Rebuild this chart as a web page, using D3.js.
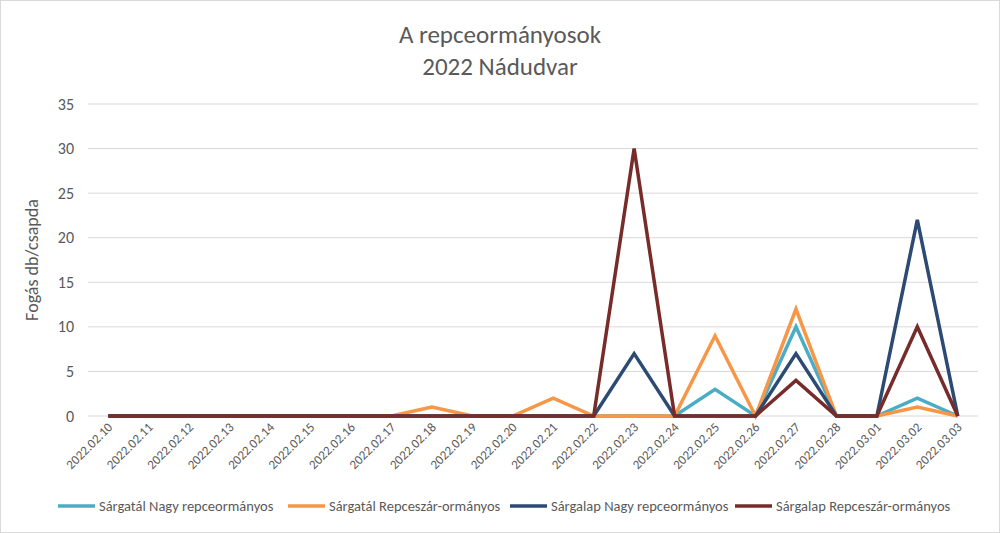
<!DOCTYPE html>
<html><head><meta charset="utf-8">
<script src="https://cdn.jsdelivr.net/npm/d3@7"></script>
<style>body{margin:0;background:#fff}text{font-family:Calibri,Carlito,"Open Sans",sans-serif}</style>
</head><body><svg id="chart"></svg>
<script>
const dates = ["2022.02.10","2022.02.11","2022.02.12","2022.02.13","2022.02.14","2022.02.15","2022.02.16","2022.02.17","2022.02.18","2022.02.19","2022.02.20","2022.02.21","2022.02.22","2022.02.23","2022.02.24","2022.02.25","2022.02.26","2022.02.27","2022.02.28","2022.03.01","2022.03.02","2022.03.03"];
const seriesNames = ["Sárgatál Nagy repceormányos","Sárgatál Repceszár-ormányos","Sárgalap Nagy repceormányos","Sárgalap Repceszár-ormányos"];
const seriesColors = ["#4bacc6","#f79646","#2c4a72","#772c2a"];
const sargatalNagy   = [0,0,0,0,0,0,0,0,0,0,0,0,0,0,0,3,0,10,0,0,2,0];
const sargatalRepcesz= [0,0,0,0,0,0,0,0,1,0,0,2,0,0,0,9,0,12,0,0,1,0];
const sargalapNagy   = [0,0,0,0,0,0,0,0,0,0,0,0,0,7,0,0,0,7,0,0,22,0];
const sargalapRepcesz= [0,0,0,0,0,0,0,0,0,0,0,0,0,30,0,0,0,4,0,0,10,0];
const seriesValues = [sargatalNagy, sargatalRepcesz, sargalapNagy, sargalapRepcesz];
const yTicks = [0,5,10,15,20,25,30,35];

const W = 1000, H = 533;
const svg = d3.select("#chart").attr("width", W).attr("height", H);
svg.append("rect").attr("x",0.5).attr("y",0.5).attr("width",W-1).attr("height",H-1)
  .attr("fill","#fff").attr("stroke","#d9d9d9");

const x = d3.scalePoint().domain(dates).range([88,978]).padding(0.5);
const y = d3.scaleLinear().domain([0,35]).range([416,104]);

svg.append("g").selectAll("line").data(yTicks.filter(d=>d>0)).join("line")
  .attr("x1",88).attr("x2",978).attr("y1",d=>y(d)).attr("y2",d=>y(d))
  .attr("stroke","#d9d9d9");
svg.append("line").attr("x1",88).attr("x2",978).attr("y1",y(0)).attr("y2",y(0)).attr("stroke","#d9d9d9");

svg.append("g").selectAll("text").data(yTicks).join("text")
  .attr("x",74).attr("y",d=>y(d)+5.5).attr("text-anchor","end")
  .attr("font-size",16).attr("fill","#595959").text(d=>d);

svg.append("g").selectAll("text").data(dates).join("text")
  .attr("transform",d=>`translate(${x(d)+5},${428}) rotate(-45)`)
  .attr("text-anchor","end").attr("font-size",13).attr("fill","#595959").text(d=>d);

const line = d3.line().x((d,i)=>x(dates[i])).y(d=>y(d));
seriesValues.forEach((vals,k)=>{
  svg.append("path").datum(vals).attr("d",line).attr("fill","none")
    .attr("stroke",seriesColors[k]).attr("stroke-width",3.5).attr("stroke-linejoin","miter");
});

svg.append("text").attr("x",500).attr("y",43).attr("text-anchor","middle")
  .attr("font-size",25).attr("fill","#595959").text("A repceormányosok");
svg.append("text").attr("x",500).attr("y",75).attr("text-anchor","middle")
  .attr("font-size",25).attr("fill","#595959").text("2022 Nádudvar");

svg.append("text").attr("transform",`translate(38,${y(17.5)}) rotate(-90)`)
  .attr("text-anchor","middle").attr("font-size",18).attr("fill","#595959").text("Fogás db/csapda");

const legX = [58,288,510,735];
const leg = svg.append("g").selectAll("g").data(seriesNames).join("g")
  .attr("transform",(d,i)=>`translate(${legX[i]},506)`);
leg.append("line").attr("x1",0).attr("x2",37).attr("stroke",(d,i)=>seriesColors[i]).attr("stroke-width",3.5);
leg.append("text").attr("x",41).attr("y",5).attr("font-size",14.5).attr("fill","#595959").text(d=>d);
</script></body></html>
